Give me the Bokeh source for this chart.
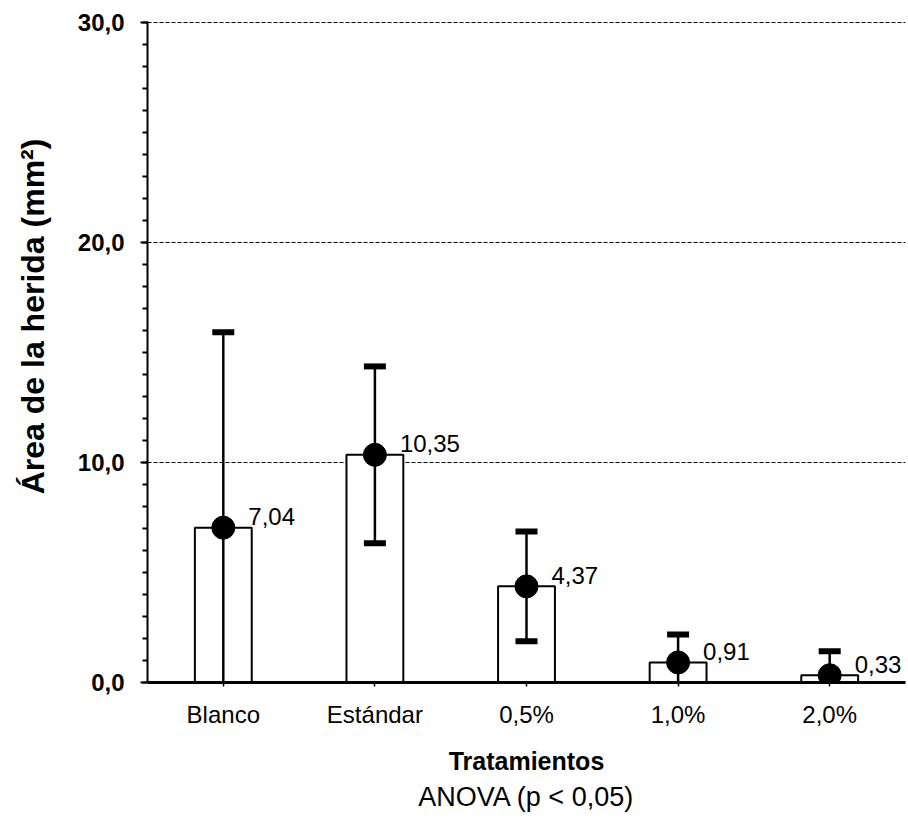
from bokeh.plotting import figure
from bokeh.models import ColumnDataSource, FixedTicker, SingleIntervalTicker, Title, Range1d
from bokeh.core.properties import value
from bokeh.embed import file_html
from bokeh.resources import INLINE

# ---- data ----
categories = ["Blanco", "Estándar", "0,5%", "1,0%", "2,0%"]
means = [7.04, 10.35, 4.37, 0.91, 0.33]
sds = [8.88, 4.02, 2.50, 1.27, 1.09]
y_ticks = [0, 10, 20, 30]
y_tick_labels = ["0,0", "10,0", "20,0", "30,0"]
grid_values = [10, 20, 30]
y_title = "Área de la herida (mm²)"
x_title = "Tratamientos"
note = "ANOVA (p < 0,05)"

FONT = "Liberation Sans"

upper = [m + s for m, s in zip(means, sds)]
lower = [max(0.0, m - s) for m, s in zip(means, sds)]
labels = [f"{m:.2f}".replace(".", ",") for m in means]

src = ColumnDataSource(dict(cat=categories, mean=means, upper=upper, lower=lower, label=labels))
low_caps = ColumnDataSource(dict(
    cat=[c for c, m, s in zip(categories, means, sds) if m - s > 0],
    y=[m - s for m, s in zip(means, sds) if m - s > 0],
))

p = figure(x_range=categories, y_range=Range1d(0, 30.05),
           frame_width=758, frame_height=661,
           output_backend="svg", toolbar_location=None,
           min_border_left=147, min_border_right=1, min_border_top=21, min_border_bottom=10)
p.outline_line_color = None
p.background_fill_color = "white"

# grid
p.xgrid.grid_line_color = None
p.ygrid.ticker = FixedTicker(ticks=grid_values)
p.ygrid.grid_line_color = "black"
p.ygrid.grid_line_dash = "4 2"
p.ygrid.grid_line_width = 1

# bars
p.vbar(x="cat", top="mean", width=0.375, source=src, fill_color="white",
       line_color="black", line_width=2)
# error bars
p.segment(x0="cat", y0="lower", x1="cat", y1="upper", source=src, line_color="black", line_width=2.5)
p.rect(x="cat", y="upper", width=22, height=6, width_units="screen", height_units="screen",
       source=src, fill_color="black", line_color=None)
p.rect(x="cat", y="y", width=22, height=6, width_units="screen", height_units="screen",
       source=low_caps, fill_color="black", line_color=None)
# mean points
p.scatter(x="cat", y="mean", size=23, source=src, fill_color="black", line_color="black")
# value labels
p.text(x="cat", y="mean", text="label", source=src, x_offset=25, y_offset=-11,
       text_font=value(FONT), text_font_size="24px", text_color="black",
       text_align="left", text_baseline="alphabetic")

# y axis
p.yaxis.ticker = SingleIntervalTicker(interval=10, num_minor_ticks=10)
p.yaxis.major_label_overrides = {t: l for t, l in zip(y_ticks, y_tick_labels)}
p.yaxis.major_label_text_font = FONT
p.yaxis.major_label_text_font_size = "24px"
p.yaxis.major_label_text_font_style = "bold"
p.yaxis.major_label_text_color = "black"
p.yaxis.major_label_standoff = 16
p.yaxis.axis_line_width = 2
p.yaxis.axis_line_color = "black"
p.yaxis.major_tick_out = 7
p.yaxis.major_tick_in = 0
p.yaxis.minor_tick_out = 5
p.yaxis.minor_tick_in = 0
p.yaxis.major_tick_line_width = 2
p.yaxis.minor_tick_line_width = 2
p.yaxis.minor_tick_line_color = "black"
# leading no-break spaces shift the visible title upward, as in the original
p.yaxis.axis_label = "\u00a0" * 8 + y_title
p.yaxis.axis_label_text_font = FONT
p.yaxis.axis_label_text_font_style = "bold"
p.yaxis.axis_label_text_font_size = "32px"
p.yaxis.axis_label_text_color = "black"
p.yaxis.axis_label_standoff = 24

# x axis
p.xaxis.axis_label = x_title
p.xaxis.axis_label_text_font = FONT
p.xaxis.axis_label_text_font_style = "bold"
p.xaxis.axis_label_text_font_size = "25px"
p.xaxis.axis_label_text_color = "black"
p.xaxis.axis_label_standoff = 16
p.xaxis.major_label_text_font = FONT
p.xaxis.major_label_text_font_size = "24px"
p.xaxis.major_label_text_color = "black"
p.xaxis.major_label_standoff = 14
p.xaxis.axis_line_width = 3
p.xaxis.axis_line_color = "black"
p.xaxis.major_tick_out = 4
p.xaxis.major_tick_in = 0
p.xaxis.major_tick_line_width = 1.5

sub = Title(text=note, align="center", text_font=FONT,
            text_font_size="27px", text_font_style="normal", text_color="black",
            standoff=4)
p.add_layout(sub, "below")

open("out.html", "w").write(file_html(p, INLINE))
